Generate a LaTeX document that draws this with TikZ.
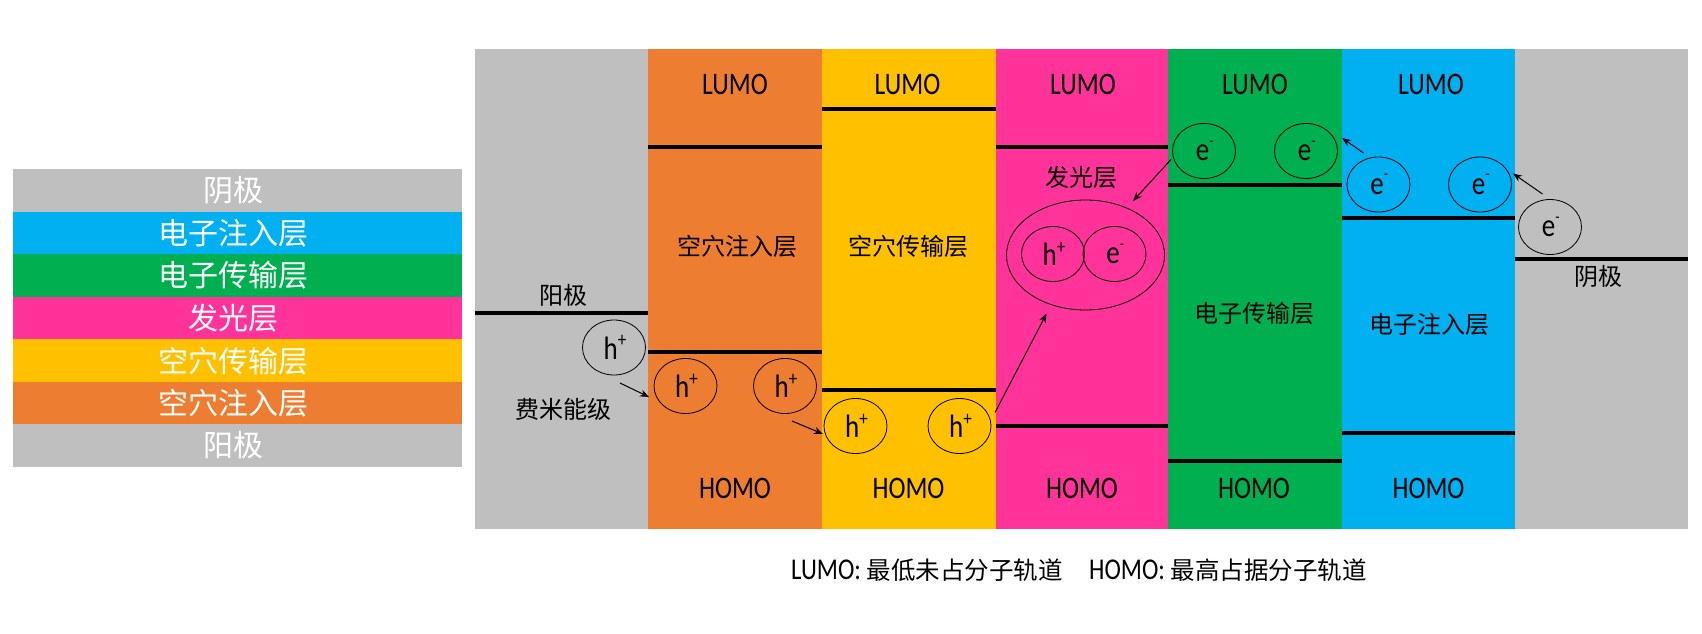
\documentclass[tikz,border=0pt]{standalone}
\usepackage{fontspec}
\usepackage{graphicx}
\setmainfont{Carlito}
\newfontfamily\cjk{Noto Sans CJK SC}
\usetikzlibrary{shapes.geometric,arrows.meta}
\definecolor{cgray}{HTML}{BFBFBF}
\definecolor{cblue}{HTML}{00B0F0}
\definecolor{cgreen}{HTML}{00B050}
\definecolor{cpink}{HTML}{FF3399}
\definecolor{cyellow}{HTML}{FFC000}
\definecolor{corange}{HTML}{ED7D31}
\newcommand{\tl}[1]{\scalebox{.95}[1.16]{#1}}
\newcommand{\hp}{\kern2pt\scalebox{1}[1.2]{h\raisebox{.38em}{\fontsize{17}{17}\selectfont +}}}
\newcommand{\ep}{\kern1.5pt\scalebox{1}[1.2]{e\raisebox{.45em}{\fontsize{14}{14}\selectfont -}}}
\tikzset{
  x=1pt,y=-1pt,
  stackrow/.style={minimum width=449pt,minimum height=42.9pt,inner sep=0pt,text=white,font=\fontsize{30}{30}\selectfont\cjk},
  level/.style={line width=4pt},
  lab/.style={inner sep=0pt,font=\fontsize{24}{24}\selectfont\cjk},
  orb/.style={inner sep=0pt,font=\fontsize{27}{27}\selectfont},
  carrier/.style={draw=black,line width=0.8pt,ellipse,inner sep=0pt,minimum width=63pt,minimum height=55pt,font=\fontsize{27}{27}\selectfont},
  flow/.style={-{Stealth[length=9pt,width=7pt]},line width=1pt},
  legend/.style={inner sep=0pt,anchor=west,font=\fontsize{26}{26}\selectfont},
}
\begin{document}
\begin{tikzpicture}
\useasboundingbox (0,0) rectangle (1702,634);
\fill[white] (0,0) rectangle (1702,634);
% left stack
\node[stackrow,fill=cgray] (s1) at (237.5,190.3) {阴极\kern9pt};
\node[stackrow,fill=cblue] (s2) at (237.5,233) {电子注入层\kern9pt};
\node[stackrow,fill=cgreen] (s3) at (237.5,275.6) {电子传输层\kern9pt};
\node[stackrow,fill=cpink] (s4) at (237.5,318.3) {发光层\kern9pt};
\node[stackrow,fill=cyellow] (s5) at (237.5,360.7) {空穴传输层\kern9pt};
\node[stackrow,fill=corange] (s6) at (237.5,403) {空穴注入层\kern9pt};
\node[stackrow,fill=cgray] (s7) at (237.5,445.5) {阳极\kern9pt};
% columns
\fill[cgray] (474.5,49) rectangle (648,529);
\fill[corange] (648,49) rectangle (822,529);
\fill[cyellow] (822,49) rectangle (995.5,529);
\fill[cpink] (995.5,49) rectangle (1168,529);
\fill[cgreen] (1168,49) rectangle (1341.5,529);
\fill[cblue] (1341.5,49) rectangle (1515,529);
\fill[cgray] (1515,49) rectangle (1688,529);
% levels
\draw[level] (474.5,312.6) -- (648,312.6);
\draw[level] (648,146.5) -- (822,146.5);
\draw[level] (648,351.7) -- (822,351.7);
\draw[level] (822,108.5) -- (995.5,108.5);
\draw[level] (822,389.7) -- (995.5,389.7);
\draw[level] (995.5,146.5) -- (1168,146.5);
\draw[level] (995.5,425.5) -- (1168,425.5);
\draw[level] (1168,184.5) -- (1341.5,184.5);
\draw[level] (1168,461.3) -- (1341.5,461.3);
\draw[level] (1341.5,218) -- (1515,218);
\draw[level] (1341.5,433) -- (1515,433);
\draw[level] (1515,259) -- (1688,259);
% LUMO / HOMO
\foreach \n/\x in {a/735,b/907.5,c/1083,d/1255,e/1431}
  \node[orb] (lumo\n) at (\x,84.7) {\tl{LUMO}};
\foreach \n/\x in {a/735,b/908.5,c/1082,d/1254,e/1428.5}
  \node[orb] (homo\n) at (\x,488.5) {\tl{HOMO}};
% labels
\node[lab] (anode) at (563,295.5) {阳极};
\node[lab] (fermi) at (563,409.5) {费米能级};
\node[lab] (hil) at (737,246.5) {空穴注入层};
\node[lab] (htl) at (908.5,246.5) {空穴传输层};
\node[lab] (eml) at (1081,177.5) {发光层};
\node[lab] (etl) at (1254,313.5) {电子传输层};
\node[lab] (eil) at (1429.5,324) {电子注入层};
\node[lab] (cathode) at (1598,276.5) {阴极};
\node[legend] (legl) at (791,570) {\tl{LUMO:} {\fontsize{24.5}{24.5}\selectfont\cjk 最低未占分子轨道}};
\node[legend] (legh) at (1089,570) {\tl{HOMO:} {\fontsize{24.5}{24.5}\selectfont\cjk 最高占据分子轨道}};
% carriers
\node[carrier] (h0) at (614,347.5) {\hp};
\node[carrier] (h1) at (685.5,386) {\hp};
\node[carrier] (h2) at (785,386) {\hp};
\node[carrier] (h3) at (855.5,426) {\hp};
\node[carrier] (h4) at (959.5,426) {\hp};
\node[draw=black,line width=0.8pt,ellipse,inner sep=0pt,minimum width=158pt,minimum height=110pt] (ex) at (1085.5,255) {};
\node[carrier] (hx) at (1053,254) {\hp};
\node[carrier] (ex1) at (1114.5,254) {\ep};
\node[carrier] (e1) at (1204,151) {\ep};
\node[carrier] (e2) at (1306,151) {\ep};
\node[carrier] (e3) at (1378.5,184.5) {\ep};
\node[carrier] (e4) at (1480,184.5) {\ep};
\node[carrier] (e5) at (1550,227) {\ep};
% arrows
\coordinate (a1s) at (620,383); \coordinate (a1e) at (649,397);
\coordinate (a2s) at (792,421); \coordinate (a2e) at (823,434);
\coordinate (a3s) at (995,412.5); \coordinate (a3e) at (1046.5,313.7);
\coordinate (a4s) at (1171,159.5); \coordinate (a4e) at (1133,201);
\coordinate (a5s) at (1363.5,153); \coordinate (a5e) at (1342,138);
\coordinate (a6s) at (1542.5,194); \coordinate (a6e) at (1513,173.5);
\draw[flow] (a1s) -- (a1e);
\draw[flow] (a2s) -- (a2e);
\draw[flow] (a3s) -- (a3e);
\draw[flow] (a4s) -- (a4e);
\draw[flow] (a5s) -- (a5e);
\draw[flow] (a6s) -- (a6e);
\end{tikzpicture}
\end{document}
